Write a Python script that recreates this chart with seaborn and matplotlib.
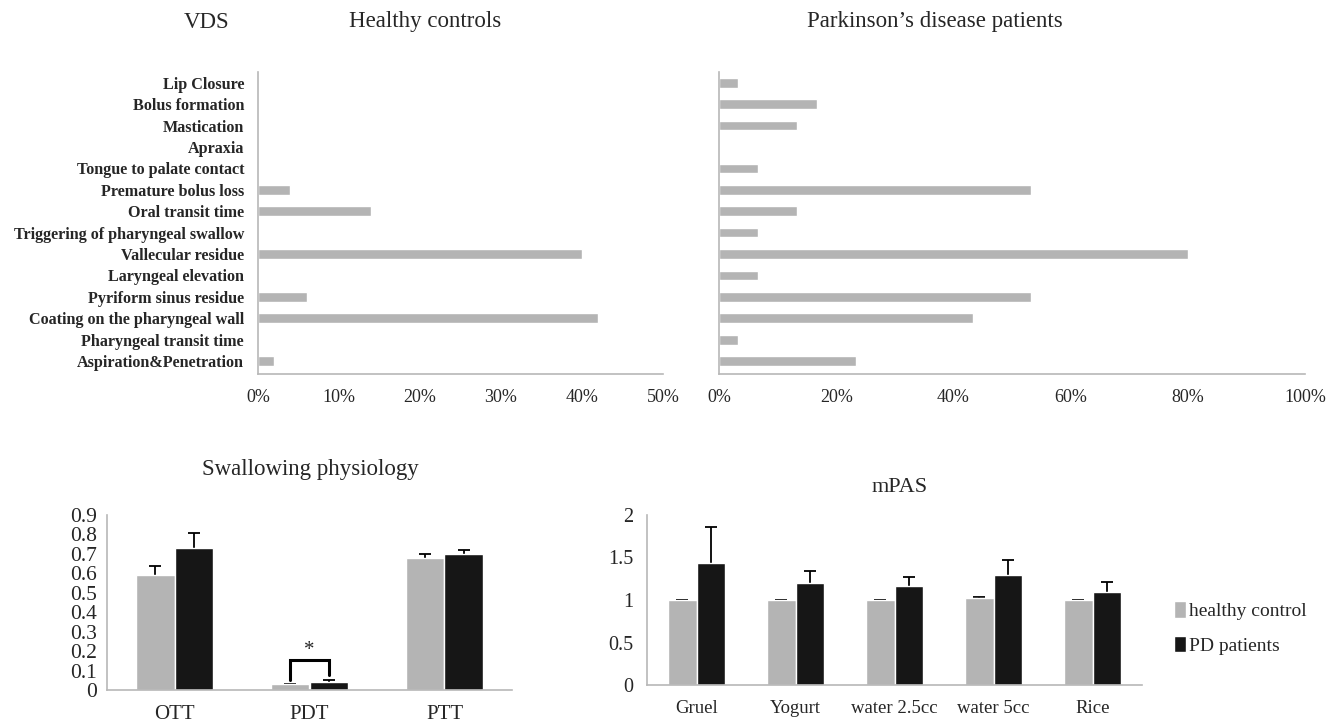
import numpy as np
import pandas as pd
import matplotlib
matplotlib.use("Agg")
import matplotlib.pyplot as plt
from matplotlib.ticker import FixedLocator, PercentFormatter
import seaborn as sns

# VDS items (top to bottom)
vds_items = ["Lip Closure", "Bolus formation", "Mastication", "Apraxia",
             "Tongue to palate contact", "Premature bolus loss", "Oral transit time",
             "Triggering of pharyngeal swallow", "Vallecular residue",
             "Laryngeal elevation", "Pyriform sinus residue",
             "Coating on the pharyngeal wall", "Pharyngeal transit time",
             "Aspiration&Penetration"]
healthy_pct = [0, 0, 0, 0, 0, 4, 14, 0, 40, 0, 6, 42, 0, 2]
pd_pct = [3.3, 16.7, 13.3, 0, 6.7, 53.3, 13.3, 6.7, 80, 6.7, 53.3, 43.3, 3.3, 23.3]

# swallowing physiology
phys_cats = ["OTT", "PDT", "PTT"]
phys_hc = [0.59, 0.03, 0.68]
phys_hc_err = [0.05, 0.002, 0.02]
phys_pd = [0.73, 0.04, 0.70]
phys_pd_err = [0.08, 0.01, 0.02]

# mPAS
mpas_cats = ["Gruel", "Yogurt", "water 2.5cc", "water 5cc", "Rice"]
mpas_hc = [1.0, 1.0, 1.0, 1.02, 1.0]
mpas_hc_err = [0.004, 0.004, 0.004, 0.02, 0.004]
mpas_pd = [1.43, 1.20, 1.165, 1.30, 1.10]
mpas_pd_err = [0.43, 0.14, 0.11, 0.17, 0.11]

groups = ["healthy control", "PD patients"]
GRAY = "#b4b4b4"
BLACK = "#161616"
AXC = "#b8b8b8"

sns.set_style("white")
plt.rcParams["font.family"] = ["Liberation Serif", "DejaVu Serif"]

W, H = 1338, 724
fig = plt.figure(figsize=(W / 100, H / 100), dpi=100)


def px_axes(x0, y0, x1, y1):
    return fig.add_axes([x0 / W, 1 - y1 / H, (x1 - x0) / W, (y1 - y0) / H])


def style_axes(ax):
    sns.despine(ax=ax)
    for s in ["left", "bottom"]:
        ax.spines[s].set_color(AXC)
        ax.spines[s].set_linewidth(1.2)
    ax.tick_params(which="both", color=AXC, width=1.2)


def hbar_panel(ax, vals, show_labels):
    df = pd.DataFrame({"item": vds_items, "pct": vals})
    sns.barplot(data=df, x="pct", y="item", orient="h", color=GRAY,
                saturation=1, width=0.45, ax=ax)
    style_axes(ax)
    ax.set_xlabel("")
    ax.set_ylabel("")
    ax.xaxis.set_major_formatter(PercentFormatter(decimals=0))
    ax.tick_params(axis="x", which="major", length=5, direction="out",
                   labelsize=13, pad=6)
    ax.yaxis.set_minor_locator(FixedLocator(np.arange(-0.5, len(vds_items), 1)))
    ax.tick_params(axis="y", which="major", length=0, pad=10)
    ax.tick_params(axis="y", which="minor", length=5, direction="out")
    if show_labels:
        for lab in ax.get_yticklabels():
            lab.set_fontweight("bold")
            lab.set_fontsize(11.6)
    else:
        ax.set_yticklabels([])
    ax.set_ylim(len(vds_items) - 0.4, -0.5)


ax1 = px_axes(258, 72, 663, 374)
hbar_panel(ax1, healthy_pct, True)
ax1.set_xlim(0, 50)
ax1.set_xticks(np.arange(0, 51, 10))

ax2 = px_axes(719, 72, 1305, 374)
hbar_panel(ax2, pd_pct, False)
ax2.set_xlim(0, 100)
ax2.set_xticks(np.arange(0, 101, 20))

fig.text(207 / W, 1 - 22 / H, "VDS", ha="center", va="center", fontsize=16.5)
fig.text(425 / W, 1 - 22 / H, "Healthy controls", ha="center", va="center",
         fontsize=16.5)
fig.text(935 / W, 1 - 22 / H, "Parkinson\u2019s disease patients", ha="center",
         va="center", fontsize=16.5)


def grouped_panel(ax, cats, hc, hc_err, pdv, pd_err):
    df = pd.DataFrame({
        "cat": cats * 2,
        "val": hc + pdv,
        "group": [groups[0]] * len(cats) + [groups[1]] * len(cats),
    })
    sns.barplot(data=df, x="cat", y="val", hue="group", palette=[GRAY, BLACK],
                saturation=1, width=0.57, ax=ax, legend=True)
    for cont, err in zip(ax.containers, [hc_err, pd_err]):
        xs = [p.get_x() + p.get_width() / 2 for p in cont.patches]
        hs = [p.get_height() for p in cont.patches]
        # drawn behind the bars so only the upper half shows
        ax.errorbar(xs, hs, yerr=err, fmt="none", ecolor="black",
                    elinewidth=1.3, capsize=4, capthick=1.3, zorder=0.5)
    style_axes(ax)
    ax.set_xlabel("")
    ax.set_ylabel("")
    ax.set_xlim(-0.5, len(cats) - 0.5)
    ax.xaxis.set_minor_locator(FixedLocator(np.arange(-0.5, len(cats), 1)))
    ax.tick_params(axis="x", which="major", length=0, pad=11)
    ax.tick_params(axis="x", which="minor", length=6, direction="out")
    ax.tick_params(axis="y", which="major", length=4, direction="out")
    return ax


ax3 = px_axes(107, 515, 512, 690)
grouped_panel(ax3, phys_cats, phys_hc, phys_hc_err, phys_pd, phys_pd_err)
ax3.get_legend().remove()
ax3.set_ylim(0, 0.9)
ax3.set_yticks(np.round(np.arange(0, 0.91, 0.1), 1))
ax3.set_yticklabels(["0"] + [f"{v:.1f}" for v in np.arange(0.1, 0.91, 0.1)])
ax3.tick_params(axis="y", labelsize=15.5, pad=3)
ax3.tick_params(axis="x", labelsize=15)
# significance bracket on PDT
pg = ax3.containers[0].patches[1]
pb = ax3.containers[1].patches[1]
xg = pg.get_x() + pg.get_width() / 2
xb = pb.get_x() + pb.get_width() / 2
ax3.plot([xg, xg, xb, xb], [0.05, 0.155, 0.155, 0.075], color="black", lw=2.2,
         solid_joinstyle="miter")
ax3.text((xg + xb) / 2, 0.205, "*", ha="center", va="center", fontsize=15)
fig.text(310 / W, 1 - 470 / H, "Swallowing physiology", ha="center",
         va="center", fontsize=16.5)

ax4 = px_axes(647, 515, 1142, 685)
grouped_panel(ax4, mpas_cats, mpas_hc, mpas_hc_err, mpas_pd, mpas_pd_err)
ax4.set_ylim(0, 2)
ax4.set_yticks([0, 0.5, 1, 1.5, 2])
ax4.set_yticklabels(["0", "0.5", "1", "1.5", "2"])
ax4.tick_params(axis="y", labelsize=14.5, pad=6)
ax4.tick_params(axis="x", labelsize=13.5)
ax4.legend(loc="center left", bbox_to_anchor=(1.03, 0.335), frameon=False,
           fontsize=14, handlelength=0.6, handleheight=0.9, handletextpad=0.15,
           labelspacing=0.8, title=None)
fig.text(900 / W, 1 - 487 / H, "mPAS", ha="center", va="center", fontsize=16)

fig.savefig("out.png", dpi=100)
